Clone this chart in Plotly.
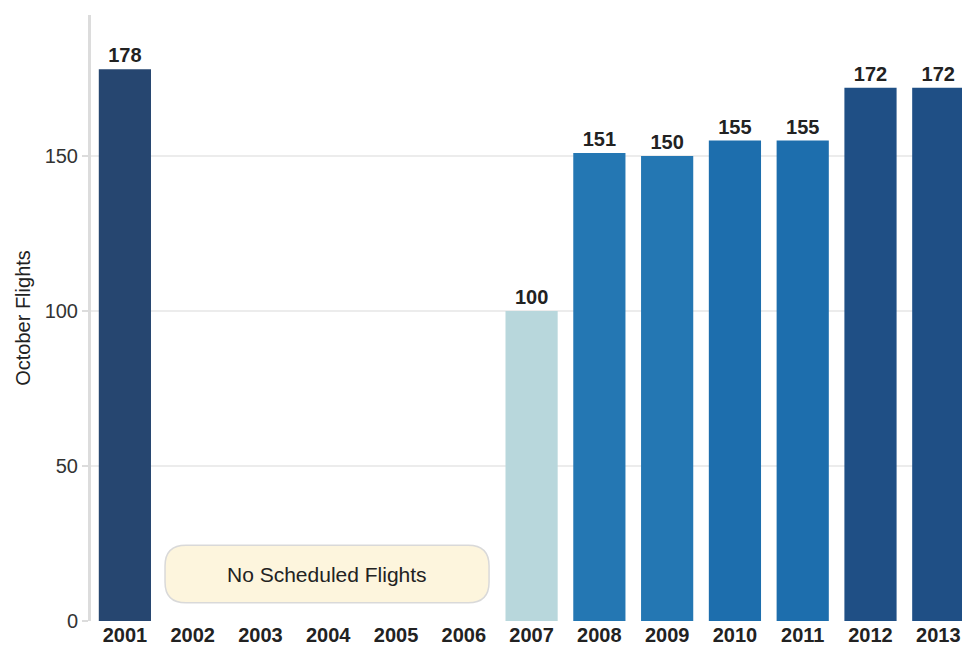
import plotly.graph_objects as go

years = ["2001", "2002", "2003", "2004", "2005", "2006", "2007",
         "2008", "2009", "2010", "2011", "2012", "2013"]
flights = [178, None, None, None, None, None, 100, 151, 150, 155, 155, 172, 172]
bar_colors = ["#264670", "#264670", "#264670", "#264670", "#264670", "#264670",
              "#b8d7dc", "#2477b3", "#2477b3", "#1d6ead", "#1d6ead", "#1f4f85", "#1f4f85"]
y_ticks = [0, 50, 100, 150]
note_text = "No Scheduled Flights"

FONT = "Liberation Sans, Arial, sans-serif"

fig = go.Figure()
fig.add_trace(go.Bar(
    x=years, y=flights,
    marker=dict(color=bar_colors, line=dict(width=0)),
    text=[f"<b>{v}</b>" if v is not None else "" for v in flights],
    textposition="outside",
    textfont=dict(family=FONT, size=20, color="#222222"),
    cliponaxis=False,
    hoverinfo="x+y",
))

# rounded note box (paper coords)
x0, x1 = 0.085, 0.457
y0, y1 = 0.030, 0.125
rx, ry = 0.024, 0.034
path = (f"M {x0+rx},{y0} L {x1-rx},{y0} Q {x1},{y0} {x1},{y0+ry} "
        f"L {x1},{y1-ry} Q {x1},{y1} {x1-rx},{y1} L {x0+rx},{y1} "
        f"Q {x0},{y1} {x0},{y1-ry} L {x0},{y0+ry} Q {x0},{y0} {x0+rx},{y0} Z")
fig.add_shape(type="path", path=path, xref="paper", yref="paper",
              fillcolor="#fdf5dd", line=dict(color="#d9d9d9", width=1.5), layer="above")
fig.add_annotation(x=(x0+x1)/2, y=(y0+y1)/2, xref="paper", yref="paper",
                   xanchor="center", yanchor="middle",
                   text=note_text, showarrow=False,
                   font=dict(family=FONT, size=21, color="#222222"))

fig.update_layout(
    width=962, height=649,
    margin=dict(l=91, r=0, t=15, b=28),
    paper_bgcolor="white", plot_bgcolor="white",
    bargap=0.23,
    showlegend=False,
    font=dict(family=FONT),
    xaxis=dict(
        type="category",
        range=[-0.5, 12.35],
        showgrid=False, showline=False, zeroline=False,
        ticks="",
        tickfont=dict(family=FONT, size=20, color="#222222"),
        tickprefix="<b>", ticksuffix="</b>",
    ),
    yaxis=dict(
        range=[0, 195.5],
        tickvals=y_ticks,
        showgrid=True, gridcolor="#ececec", gridwidth=1.5,
        zeroline=False,
        showline=True, linecolor="#dcdcdc", linewidth=3,
        ticks="outside", tickcolor="#dcdcdc", ticklen=6, tickwidth=1.5,
        tickfont=dict(family=FONT, size=20, color="#333333"),
        title=dict(text="October Flights", font=dict(family=FONT, size=20, color="#222222"), standoff=9),
    ),
)

fig.write_html(
    "out.html",
    config={"displayModeBar": False},
    post_script="document.body.style.margin='0';document.documentElement.style.overflow='hidden';",
)
